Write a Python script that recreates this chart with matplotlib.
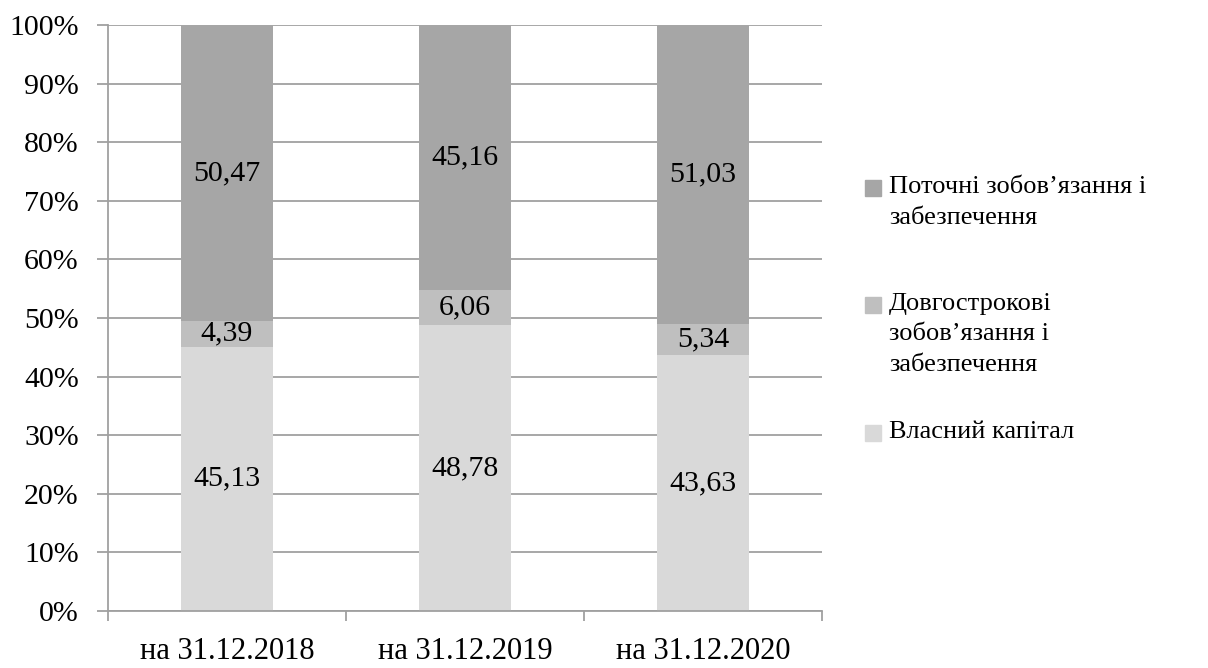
import numpy as np
import matplotlib.pyplot as plt
from matplotlib.patches import Rectangle

dates = ["на 31.12.2018", "на 31.12.2019", "на 31.12.2020"]
own_capital = [45.13, 48.78, 43.63]
long_term = [4.39, 6.06, 5.34]
current = [50.47, 45.16, 51.03]

names = ["Власний капітал",
         "Довгострокові\nзобов’язання і\nзабезпечення",
         "Поточні зобов’язання і\nзабезпечення"]
colors = ["#d9d9d9", "#bfbfbf", "#a6a6a6"]

plt.rcParams['font.family'] = ['Liberation Serif', 'DejaVu Serif']

series = np.array([own_capital, long_term, current])
share = series / series.sum(axis=0) * 100

W, H = 1208, 668
fig = plt.figure(figsize=(W / 100, H / 100), dpi=100)
ax = fig.add_axes([108 / W, 57 / H, 714 / W, 586 / H])

x = np.arange(len(dates))
bottom = np.zeros(len(dates))
for vals, pct, col in zip(series, share, colors):
    ax.bar(x, pct, 0.39, bottom=bottom, color=col, zorder=2)
    for xi, b, p, v in zip(x, bottom, pct, vals):
        ax.text(xi, b + p / 2, f"{v:.2f}".replace(".", ","),
                ha="center", va="center", fontsize=21.5, zorder=3)
    bottom += pct

ax.set_xlim(-0.5, 2.5)
ax.set_ylim(0, 100)
ax.set_yticks(np.arange(0, 101, 10))
ax.set_yticklabels([f"{v}%" for v in range(0, 101, 10)], fontsize=21.5)
ax.yaxis.grid(True, color="#a0a0a0", linewidth=1.3, zorder=0)
ax.tick_params(axis="y", length=8, width=1.3, color="#a0a0a0", pad=13)

ax.set_xticks(x)
ax.set_xticklabels(dates, fontsize=22)
ax.set_xticks([-0.5, 0.5, 1.5, 2.5], minor=True)
ax.tick_params(axis="x", which="major", length=0, pad=19)
ax.tick_params(axis="x", which="minor", length=7, width=1.3, color="#a0a0a0")

for s in ["top", "right"]:
    ax.spines[s].set_visible(False)
for s in ["left", "bottom"]:
    ax.spines[s].set_color("#a0a0a0")
    ax.spines[s].set_linewidth(1.3)

# legend drawn by hand so the marker sits on the first line of each label
legend_y = [188, 305, 433]
for name, col, y in zip(names[::-1], colors[::-1], legend_y):
    fig.patches.append(Rectangle((865 / W, 1 - (y + 8) / H), 16 / W, 16 / H,
                                 transform=fig.transFigure, color=col))
    fig.text(889 / W, 1 - (y - 12) / H, name, fontsize=19, va="top",
             ha="left", linespacing=1.5)

fig.savefig("out.png", dpi=100)
